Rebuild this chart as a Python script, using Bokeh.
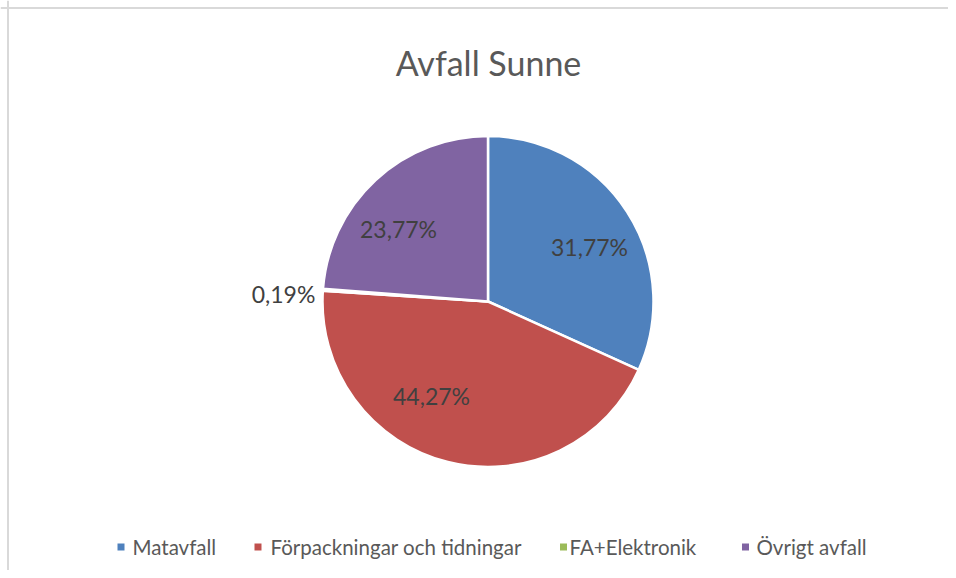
import numpy as np
from bokeh.plotting import figure
from bokeh.models import Range1d, Span, ColumnDataSource
from bokeh.core.properties import value
from bokeh.embed import file_html
from bokeh.resources import INLINE

# ---- data ----
categories = ["Matavfall", "Förpackningar och tidningar", "FA+Elektronik", "Övrigt avfall"]
shares = [31.77, 44.27, 0.19, 23.77]
labels = ["31,77%", "44,27%", "0,19%", "23,77%"]
colors = ["#4F81BD", "#C0504D", "#9BBB59", "#8064A2"]
title_text = "Avfall Sunne"

# ---- layout (page pixels, converted to data units) ----
W, H = 948, 570
def dx(px):
    return px
def dy(py):
    return H - py

cx, cy, R = dx(487.5), dy(301), 165.5
# label positions (page pixels) as chosen by the original layout
label_px = [589, 431, 283, 398]
label_py = [246, 395, 293, 228]
legend_sq_px = [120.5, 257.5, 563, 745]
legend_tx_px = [132, 270, 569, 756]
legend_py = 546.5

FONT = "Lato"

p = figure(width=W, height=H, output_backend="svg", toolbar_location=None,
           x_range=Range1d(0, W), y_range=Range1d(0, H), min_border=0)
p.axis.visible = False
p.grid.visible = False
p.outline_line_color = None
p.background_fill_color = "white"

# border (left & top visible in the reference)
p.add_layout(Span(location=7.5, dimension="height", line_color="#d9d9d9", line_width=2))
p.add_layout(Span(location=dy(7.5), dimension="width", line_color="#d9d9d9", line_width=2))

frac = np.array(shares) / np.sum(shares)
cum = np.concatenate([[0], np.cumsum(frac)])
start = np.pi / 2 - 2 * np.pi * cum[:-1]
end = np.pi / 2 - 2 * np.pi * cum[1:]

src = ColumnDataSource(dict(start=start, end=end, color=colors, cat=categories))
p.wedge(x=cx, y=cy, radius=R, start_angle="start", end_angle="end", direction="clock",
        fill_color="color", line_color="white", line_width=2.5, source=src)

# data labels
lsrc = ColumnDataSource(dict(x=[dx(v) for v in label_px], y=[dy(v) for v in label_py], t=labels))
p.text(x="x", y="y", text="t", source=lsrc, text_align="center", text_baseline="middle",
       text_font=value(FONT), text_font_size="23px", text_color="#404040")

# title
p.text(x=[dx(488)], y=[dy(62)], text=[title_text], text_align="center", text_baseline="alphabetic",
       text_font=value(FONT), text_font_size="34px", text_color="#595959")

# legend
p.scatter(x=[dx(v) for v in legend_sq_px], y=[dy(legend_py)] * 4, marker="square", size=7,
          fill_color=colors, line_color=None)
p.text(x=[dx(v) for v in legend_tx_px], y=[dy(legend_py)] * 4, text=categories,
       text_align="left", text_baseline="middle", text_font=value(FONT),
       text_font_size="20.5px", text_color="#595959")

open("out.html", "w").write(file_html(p, INLINE))
